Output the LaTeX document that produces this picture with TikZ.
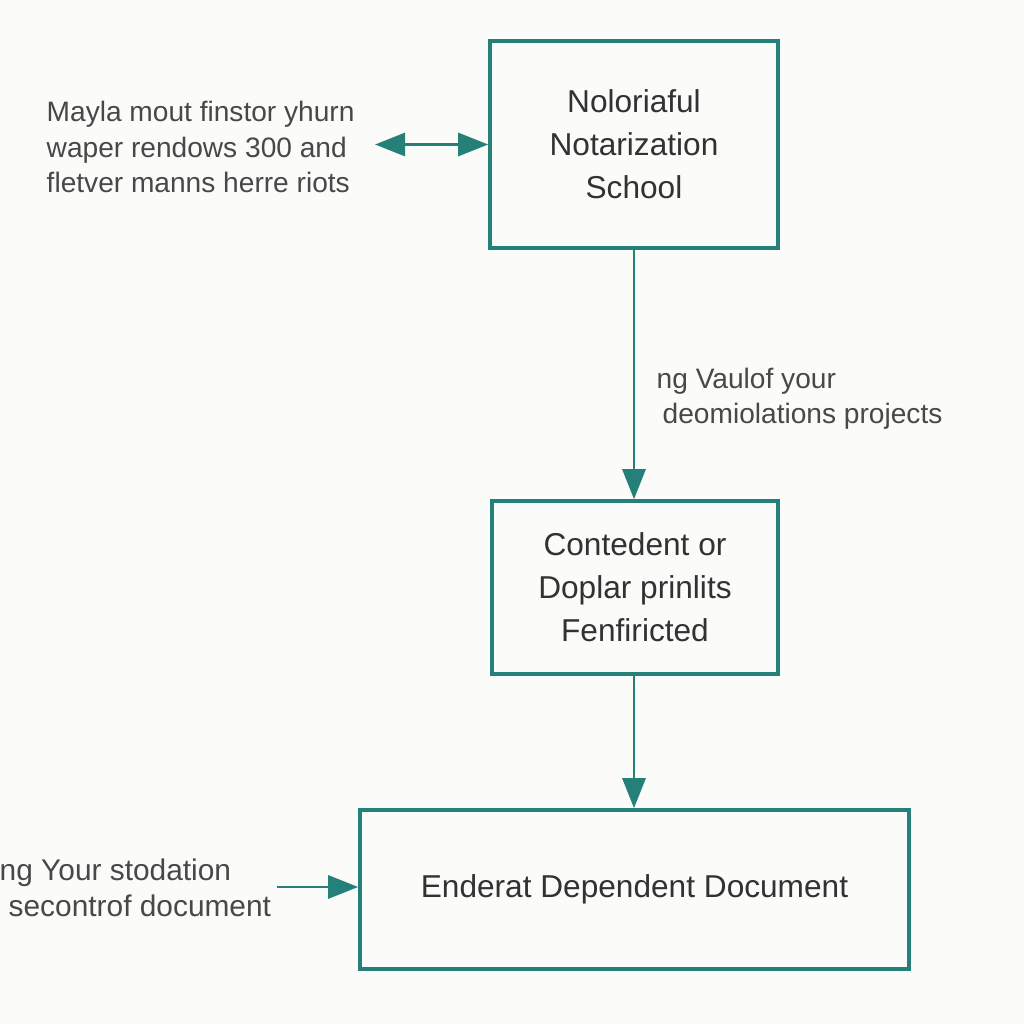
\documentclass[tikz,border=0pt]{standalone}
\usepackage{fontspec}
\setmainfont{Liberation Sans}
\usetikzlibrary{arrows.meta}
\definecolor{teal1}{RGB}{38,128,122}
\definecolor{ink}{RGB}{50,50,50}
\definecolor{inkside}{RGB}{72,72,72}
\definecolor{paper}{RGB}{251,251,249}
\tikzset{
  box/.style={draw=teal1, line width=1pt, inner sep=0pt, align=center,
    text=ink, font=\fontsize{9}{12.2}\selectfont},
  side/.style={align=left, inner sep=0pt, text=inkside,
    font=\fontsize{8}{10}\selectfont},
  link/.style={draw=teal1, line width=0.8pt,
    -{Triangle[length=3mm,width=2.3mm]}},
}
\begin{document}
\begin{tikzpicture}
\fill [paper] (0,0) rectangle (10.24,10.24);
\useasboundingbox (0,0) rectangle (10.24,10.24);
% The boxes:
\node [box, minimum width=2.88cm, minimum height=2.07cm] (school) at (6.34,8.795)
  {Noloriaful\\Notarization\\School};
\node [box, minimum width=2.86cm, minimum height=1.73cm] (prints) at (6.35,4.365)
  {Contedent or\\Doplar prinlits\\Fenfiricted};
\node [box, minimum width=5.49cm, minimum height=1.59cm] (doc) at (6.345,1.345)
  {Enderat Dependent Document};
% Side texts
\node [side, anchor=west] (topnote) at (0.46,8.77)
  {Mayla mout finstor yhurn\\waper rendows 300 and\\fletver manns herre riots};
\node [side, anchor=west] (midnote) at (6.56,6.25)
  {ng Vaulof your\\\hspace*{0.06cm}deomiolations projects};
\node [side, anchor=west, font=\fontsize{8.5}{10.4}\selectfont] (botnote) at (-0.01,1.36)
  {ng Your stodation\\\hspace*{0.09cm}secontrof document};
\coordinate (topin) at (3.75,8.795);
\coordinate (botin) at (2.77,1.37);

% The links:
\draw [link, {Triangle[length=3mm,width=2.3mm]}-{Triangle[length=3mm,width=2.3mm]}] (topin) -- (school.west);
\draw [link] (school.south) -- (school.south |- prints.north);
\draw [link] (school.south |- prints.south) -- (school.south |- doc.north);
\draw [link] (botin) -- (botin -| doc.west);
\end{tikzpicture}
\end{document}
